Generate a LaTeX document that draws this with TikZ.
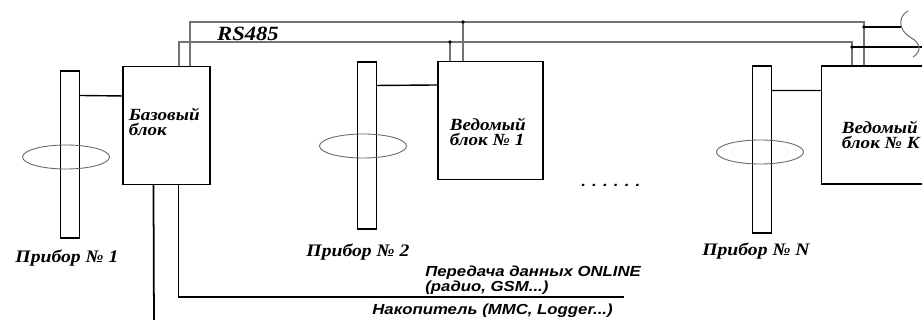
\documentclass[tikz,border=0pt]{standalone}
\usepackage{fontspec}
\setmainfont{Liberation Serif}
\newfontfamily\serifbi[FakeStretch=1.12]{Liberation Serif}
\newfontfamily\sansbi[FakeStretch=1.15]{Liberation Sans}
\usetikzlibrary{positioning, shapes.geometric}

\begin{document}
\begin{tikzpicture}[
        x=0.02cm, y=-0.02cm,
        bar/.style={
            draw,
            rectangle,
            minimum width=0.37cm,
            minimum height=3.34cm,
            inner sep=0pt,
            line width=0.6pt
        },
        unit/.style={
            draw,
            rectangle,
            minimum height=2.36cm,
            inner sep=0pt,
            line width=0.6pt
        },
        ring/.style={
            draw=black!60,
            ellipse,
            minimum width=1.74cm,
            minimum height=0.48cm,
            inner sep=0pt,
            line width=0.5pt
        },
        caption/.style={
            font=\serifbi\bfseries\itshape\fontsize{10}{11}\selectfont,
            inner sep=0pt
        },
        blocktext/.style={
            font=\serifbi\bfseries\itshape\fontsize{9.7}{8.6}\selectfont,
            align=left,
            anchor=west,
            inner sep=0pt
        },
        note/.style={
            font=\sansbi\bfseries\itshape\fontsize{8.3}{7.5}\selectfont,
            align=left,
            anchor=west,
            inner sep=0pt
        },
        bus/.style={draw=black!55, line width=0.6pt},
        link/.style={line width=0.8pt},
        wire/.style={line width=1pt}
    ]

        \path[use as bounding box, clip] (0,0) rectangle (922,320);

        % devices and rings
        \node[bar] (bar1) at (70,154.5) {};
        \node[bar] (bar2) at (367,145.5) {};
        \node[bar] (barN) at (762,149.5) {};
        \node[ring] (ring1) at (66,157) {};
        \node[ring] (ring2) at (363,146) {};
        \node[ring] (ringN) at (760,152) {};

        % blocks
        \node[unit, minimum width=1.74cm] (base) at (166.5,125.5) {};
        \node[unit, minimum width=2.1cm] (slave1) at (490.5,120.5) {};
        \node[unit, minimum width=2.8cm] (slaveK) at (891,125) {};
        \node[blocktext] (baseTxt) at ([xshift=0.12cm, yshift=0.07cm]base.west) {Базовый\\блок};
        \node[blocktext] (slave1Txt) at ([xshift=0.24cm, yshift=-0.23cm]slave1.west) {Ведомый\\блок № 1};
        \node[blocktext] (slaveKTxt) at ([xshift=0.42cm, yshift=-0.2cm]slaveK.west) {Ведомый\\блок № K};

        % labels
        \node[caption] (dev1) at (67,258) {Прибор № 1};
        \node[caption] (dev2) at (358,252) {Прибор № 2};
        \node[caption] (devN) at (756,251) {Прибор № N};
        \node[caption, font=\serifbi\bfseries\itshape\fontsize{11.5}{12}\selectfont] (rs) at (248,34) {RS485};
        \node[note] (more) at (581,185) {. . . . . .};
        \node[note] (online) at (425,280.5) {Передача данных ONLINE\\(радио, GSM...)};
        \node[note] (store) at (372,311) {Накопитель (MMC, Logger...)};

        % RS485 bus
        \coordinate (busA) at (190,22);
        \coordinate (busB) at (179,42);
        \coordinate (busAend) at (864,22);
        \coordinate (busBend) at (852,42);
        \coordinate (tapA) at (463,22);
        \coordinate (tapB) at (450,42);
        \coordinate (exitA) at (902,27);
        \coordinate (exitB) at (930,47);
        \draw[bus] (base.north -| busA) -- (busA) -- (busAend) -- (slaveK.north -| busAend);
        \draw[bus] (base.north -| busB) -- (busB) -- (busBend) -- (slaveK.north -| busBend);
        \draw[bus] (tapA) -- (slave1.north -| tapA);
        \draw[bus] (tapB) -- (slave1.north -| tapB);
        \draw[link] (busAend |- exitA) -- (exitA);
        \draw[link] (busBend |- exitB) -- (exitB);
        \fill (tapA) circle (1.1pt);
        \fill (tapB) circle (1.1pt);
        \fill (busAend |- exitA) circle (1.1pt);
        \fill (busBend |- exitB) circle (1.1pt);
        \draw[bus] (908,11) .. controls (898,16) and (898,30) .. (910,37) .. controls (922,44) and (921,52) .. (913,57);

        % devices to blocks
        \draw[link] ([yshift=-0.5cm]bar1.north east) -- ([yshift=-0.6cm]base.north west);
        \draw[link] ([yshift=-0.48cm]bar2.north east) -- ([yshift=-0.48cm]slave1.north west);
        \draw[link] ([yshift=-0.5cm]barN.north east) -- ([yshift=-0.5cm]slaveK.north west);

        % outputs
        \coordinate (onlineEnd) at (624,297);
        \coordinate (storeEnd) at (154,330);
        \draw[wire] ([xshift=1.12cm]base.south west) |- (onlineEnd);
        \draw[wire] ([xshift=0.62cm]base.south west) -- (storeEnd);

    \end{tikzpicture}
\end{document}
